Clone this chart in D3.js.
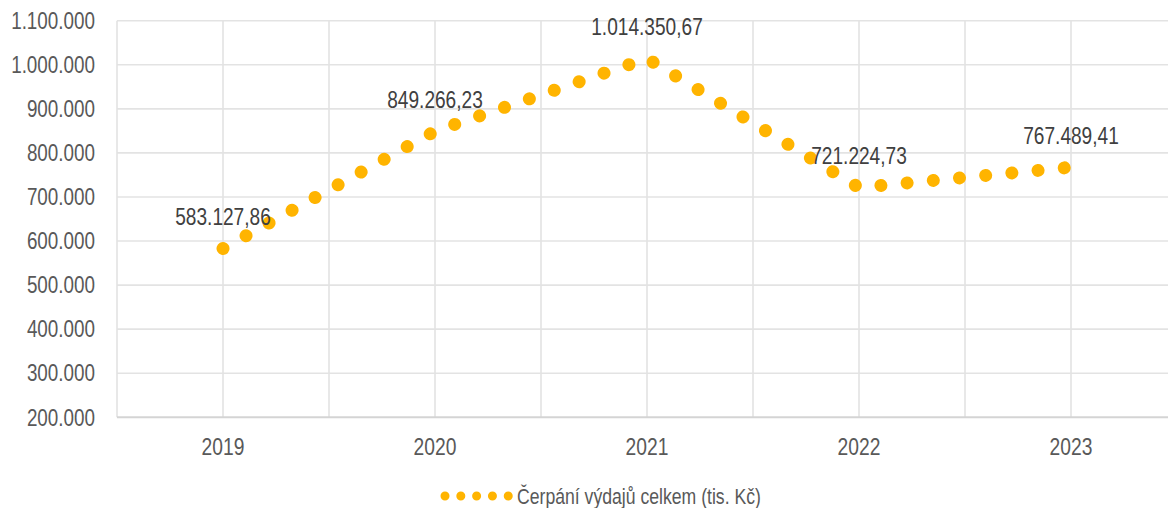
<!DOCTYPE html>
<html><head><meta charset="utf-8">
<script src="https://cdn.jsdelivr.net/npm/d3@7"></script>
<style>
html,body{margin:0;padding:0;background:#fff;}
svg{display:block;}
text{font-family:"Liberation Sans",Arial,sans-serif;}
</style></head>
<body>
<svg id="chart" width="1168" height="508"></svg>
<script>
const years = [2019, 2020, 2021, 2022, 2023];
const values = [583127.86, 849266.23, 1014350.67, 721224.73, 767489.41];
const valueLabels = ["583.127,86", "849.266,23", "1.014.350,67", "721.224,73", "767.489,41"];
const yTicks = [200000, 300000, 400000, 500000, 600000, 700000, 800000, 900000, 1000000, 1100000];
const yTickLabels = ["200.000","300.000","400.000","500.000","600.000","700.000","800.000","900.000","1.000.000","1.100.000"];
const xGrid = [2018.5, 2019, 2019.5, 2020, 2020.5, 2021, 2021.5, 2022, 2022.5, 2023, 2023.5];
const seriesName = "Čerpání výdajů celkem (tis. Kč)";

const svg = d3.select("#chart");
const x = d3.scaleLinear().domain([2018.5, 2023.5]).range([117, 1177]);
const y = d3.scaleLinear().domain([200000, 1100000]).range([417.3, 20.7]);
const color = "#FFB400";
const NARROW = 0.82;

function narrowText(sel, fx, fy) {
  return sel.attr("x", 0).attr("y", 0)
    .attr("transform", (d, i) => `translate(${fx(d, i)},${fy(d, i)}) scale(${NARROW},1)`);
}

// gridlines
svg.append("g").selectAll("line").data(yTicks.slice(1)).join("line")
  .attr("x1", x(2018.5)).attr("x2", x(2023.5))
  .attr("y1", d => y(d)).attr("y2", d => y(d))
  .attr("stroke", "#e3e3e3").attr("stroke-width", 1.6);
svg.append("g").selectAll("line").data(xGrid).join("line")
  .attr("x1", d => x(d)).attr("x2", d => x(d))
  .attr("y1", y(1100000)).attr("y2", y(200000))
  .attr("stroke", "#e3e3e3").attr("stroke-width", 1.6);
svg.append("line").attr("x1", x(2018.5)).attr("x2", x(2023.5))
  .attr("y1", y(200000)).attr("y2", y(200000))
  .attr("stroke", "#d4d4d4").attr("stroke-width", 2);

// y tick labels
narrowText(svg.append("g").selectAll("text").data(yTicks).join("text"), () => 95, d => y(d))
  .attr("text-anchor", "end").attr("dominant-baseline", "central")
  .attr("font-size", 23).attr("fill", "#595959")
  .text((d, i) => yTickLabels[i]);

// x labels
narrowText(svg.append("g").selectAll("text").data(years).join("text"), d => x(d), () => 447)
  .attr("text-anchor", "middle").attr("dominant-baseline", "central")
  .attr("font-size", 23.5).attr("fill", "#595959")
  .text(d => d);

// series: straight dotted line (round dots)
const pts = years.map((yr, i) => [x(yr), y(values[i])]);
const line = d3.line();
svg.append("path").attr("d", line(pts))
  .attr("fill", "none").attr("stroke", color).attr("stroke-width", 13)
  .attr("stroke-linecap", "round").attr("stroke-linejoin", "round")
  .attr("stroke-dasharray", "0.01 26.3");

// data labels
narrowText(svg.append("g").selectAll("text").data(years).join("text"), d => x(d), (d, i) => y(values[i]) - 31)
  .attr("text-anchor", "middle").attr("dominant-baseline", "central")
  .attr("font-size", 23.3).attr("fill", "#404040")
  .text((d, i) => valueLabels[i]);

// legend
svg.append("line").attr("x1", 445).attr("x2", 509).attr("y1", 496).attr("y2", 496)
  .attr("stroke", color).attr("stroke-width", 9).attr("stroke-linecap", "round")
  .attr("stroke-dasharray", "0.01 15.8");
svg.append("text").attr("x", 0).attr("y", 0)
  .attr("transform", `translate(517,496) scale(${NARROW},1)`)
  .attr("dominant-baseline", "central").attr("font-size", 21.5).attr("fill", "#595959")
  .text(seriesName);
</script>
</body></html>
